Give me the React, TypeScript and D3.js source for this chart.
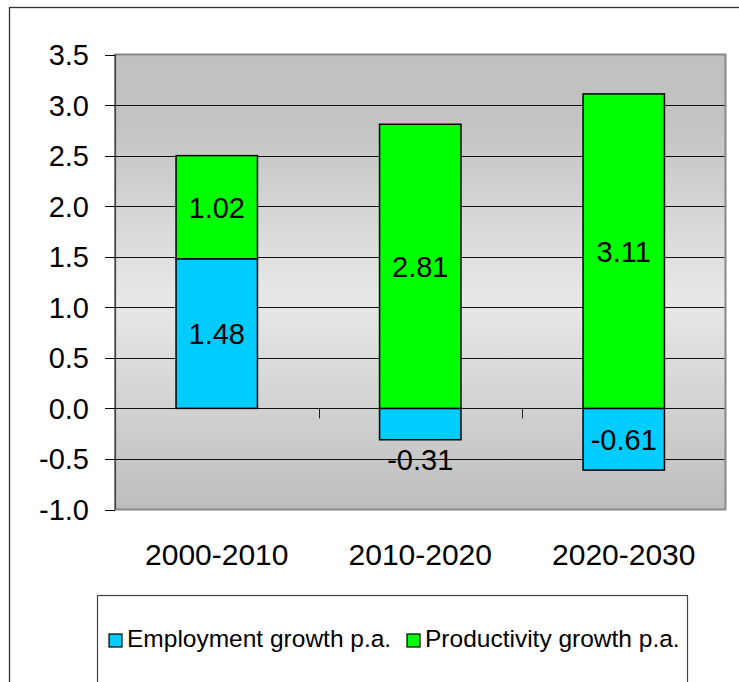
import React, { useEffect } from "react";
import * as d3 from "d3";

const categories = ["2000-2010", "2010-2020", "2020-2030"];
const seriesNames = ["Employment growth p.a.", "Productivity growth p.a."];
const employment = [1.48, -0.31, -0.61];
const productivity = [1.02, 2.81, 3.11];
const yTicks = [-1.0, -0.5, 0.0, 0.5, 1.0, 1.5, 2.0, 2.5, 3.0, 3.5];
const colors = ["#00ccff", "#00ff00"];

const W = 739;
const H = 682;
const plot = { left: 115, right: 725.5, top: 54.5, bottom: 509.5 };
const FONT = "'Liberation Sans', Arial, sans-serif";

const fmt1 = (v: number) => d3.format(".1f")(v).replace("\u2212", "-");
const fmt2 = (v: number) => d3.format(".2f")(v).replace("\u2212", "-");

export default function App() {
  useEffect(() => {
    document.body.style.margin = "0";
  }, []);

  const x = d3
    .scaleBand<string>()
    .domain(categories)
    .range([plot.left, plot.right])
    .paddingInner(0.6)
    .paddingOuter(0.3);
  const band = d3.scaleBand<string>().domain(categories).range([plot.left, plot.right]);
  const y = d3.scaleLinear().domain([-1, 3.5]).range([plot.bottom, plot.top]);

  const rows = categories.map((c, i) => ({ cat: c, emp: employment[i], prod: productivity[i] }));
  const stacked = d3
    .stack<any>()
    .keys(["emp", "prod"])
    .offset(d3.stackOffsetDiverging)(rows);

  const bw = x.bandwidth();

  const legendX = [109, 407];

  return (
    <svg width={W} height={H} style={{ display: "block", fontFamily: FONT }}>
      <defs>
        <linearGradient id="bg" x1="0" y1="0" x2="0" y2="1">
          <stop offset="0" stopColor="#c0c0c0" />
          <stop offset="0.15" stopColor="#c3c3c3" />
          <stop offset="0.54" stopColor="#e8e8e8" />
          <stop offset="1" stopColor="#bdbdbd" />
        </linearGradient>
      </defs>
      <rect x={0} y={0} width={W} height={H} fill="#ffffff" />
      {/* outer chart border */}
      <rect x={9.5} y={7.5} width={W + 20} height={H + 20} fill="none" stroke="#333" strokeWidth={1.3} />

      {/* plot area */}
      <rect
        x={plot.left}
        y={plot.top}
        width={plot.right - plot.left}
        height={plot.bottom - plot.top}
        fill="url(#bg)"
        stroke="#888"
        strokeWidth={2}
      />

      {/* gridlines */}
      {yTicks.map((t) =>
        t === 3.5 || t === -1 ? null : (
          <line
            key={"g" + t}
            x1={plot.left}
            x2={plot.right - 1}
            y1={Math.round(y(t)) + 0.5}
            y2={Math.round(y(t)) + 0.5}
            stroke="#111"
            strokeWidth={1}
          />
        )
      )}

      {/* y axis line */}
      <line x1={plot.left + 0.5} x2={plot.left + 0.5} y1={plot.top} y2={plot.bottom} stroke="#444" strokeWidth={1.2} />

      {/* y ticks & labels */}
      {yTicks.map((t) => (
        <g key={"t" + t}>
          <line
            x1={plot.left - 10}
            x2={plot.left}
            y1={Math.round(y(t)) + 0.5}
            y2={Math.round(y(t)) + 0.5}
            stroke="#000"
            strokeWidth={1}
          />
          <text x={89} y={y(t) + 10.5} textAnchor="end" fontSize={29} fill="#000">
            {fmt1(t)}
          </text>
        </g>
      ))}

      {/* category ticks on zero line */}
      {categories.slice(1).map((c) => (
        <line
          key={"ct" + c}
          x1={Math.round(band(c)!) + 0.5}
          x2={Math.round(band(c)!) + 0.5}
          y1={y(0)}
          y2={y(0) + 10}
          stroke="#222"
          strokeWidth={1}
        />
      ))}

      {/* bars */}
      {stacked.map((s, si) =>
        s.map((d, i) => {
          const y0 = y(d[0]);
          const y1 = y(d[1]);
          return (
            <rect
              key={"b" + si + i}
              x={x(categories[i])!}
              y={Math.min(y0, y1)}
              width={bw}
              height={Math.abs(y0 - y1)}
              fill={colors[si]}
              stroke="#000"
              strokeWidth={1.5}
            />
          );
        })
      )}

      {/* bar labels */}
      {stacked.map((s, si) =>
        s.map((d, i) => {
          const v = si === 0 ? employment[i] : productivity[i];
          const cx = x(categories[i])! + bw / 2;
          const outside = Math.abs(v) < 0.4;
          const cy = outside ? y(d[0]) + 20 : (y(d[0]) + y(d[1])) / 2;
          return (
            <text
              key={"l" + si + i}
              x={cx}
              y={cy + 10.5}
              textAnchor="middle"
              fontSize={29}
              fill="#000"
            >
              {fmt2(v)}
            </text>
          );
        })
      )}

      {/* category labels */}
      {categories.map((c) => (
        <text
          key={"c" + c}
          x={band(c)! + band.bandwidth() / 2}
          y={564.5}
          textAnchor="middle"
          fontSize={30}
          fill="#000"
        >
          {c}
        </text>
      ))}

      {/* legend */}
      <rect x={97.5} y={595.5} width={590} height={120} fill="#fff" stroke="#444" strokeWidth={1.2} />
      {seriesNames.map((n, i) => {
        const sx = legendX[i];
        return (
          <g key={"lg" + n}>
            <rect x={sx} y={634} width={13} height={13} fill={colors[i]} stroke="#000" strokeWidth={1.2} />
            <text x={sx + 18} y={647} fontSize={24.5} fill="#000">
              {n}
            </text>
          </g>
        );
      })}
    </svg>
  );
}
